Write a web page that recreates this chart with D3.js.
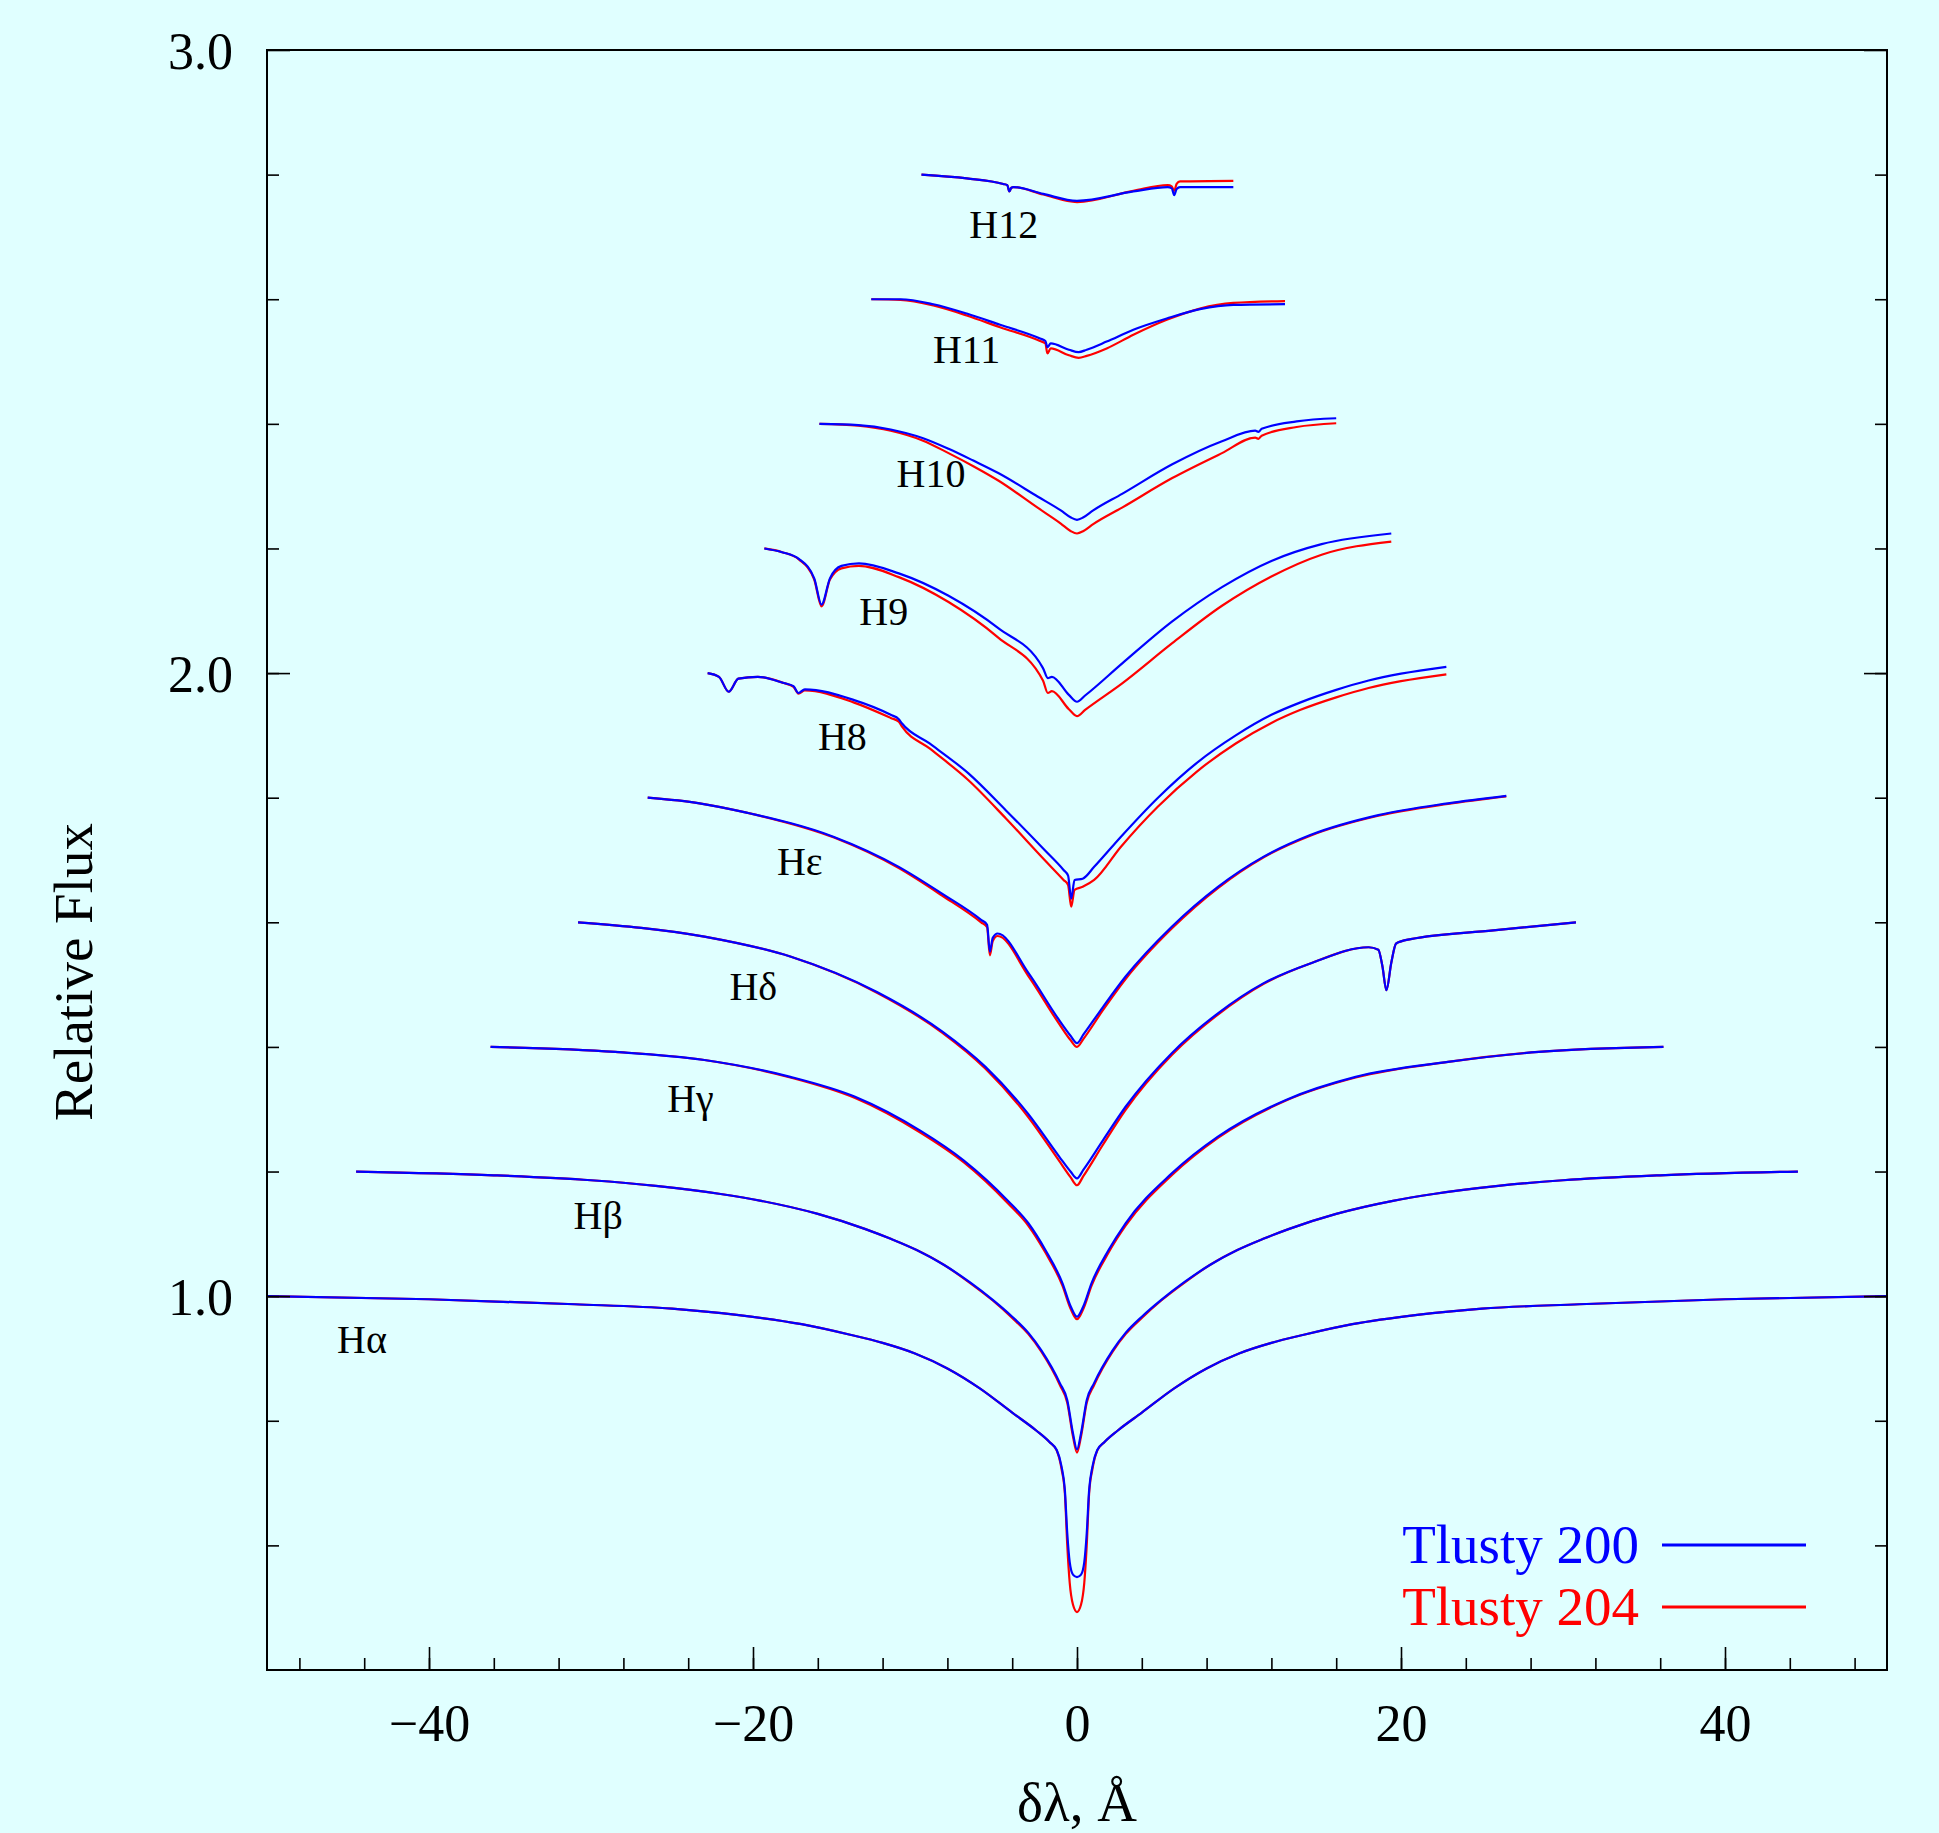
<!DOCTYPE html>
<html>
<head>
<meta charset="utf-8">
<script src="https://cdn.jsdelivr.net/npm/d3@7"></script>
<style>
body { margin: 0; background: #e0ffff; }
text { font-family: "Liberation Serif", "Times New Roman", serif; }
</style>
</head>
<body>
<svg id="chart" width="1939" height="1833"></svg>
<script>
// line profiles: offset (Å) and relative flux, Tlusty 200 (blue) / 204 (red)
var haX = [-50, -40, -31, -25, -21, -17, -14, -12, -10, -8, -6, -4, -2.5, -1.7, -1.25, -0.95, -0.75, -0.6, -0.45, -0.25, 0, 0.25, 0.45, 0.6, 0.75, 0.95, 1.25, 1.7, 2.5, 4, 6, 8, 10, 12, 14, 17, 21, 25, 31, 40, 50];
var haBlue = [1.000, 0.995, 0.987, 0.980, 0.970, 0.955, 0.938, 0.925, 0.908, 0.884, 0.852, 0.813, 0.784, 0.766, 0.753, 0.726, 0.689, 0.619, 0.573, 0.553, 0.549, 0.553, 0.573, 0.619, 0.689, 0.726, 0.753, 0.766, 0.784, 0.813, 0.852, 0.884, 0.908, 0.925, 0.938, 0.955, 0.970, 0.980, 0.987, 0.995, 1.000];
var haRed = [1.000, 0.995, 0.987, 0.980, 0.970, 0.955, 0.938, 0.925, 0.908, 0.884, 0.852, 0.813, 0.784, 0.766, 0.752, 0.722, 0.684, 0.600, 0.540, 0.505, 0.493, 0.505, 0.540, 0.600, 0.684, 0.722, 0.752, 0.766, 0.784, 0.813, 0.852, 0.884, 0.908, 0.925, 0.938, 0.955, 0.970, 0.980, 0.987, 0.995, 1.000];

var hbX = [-44.5, -36, -30, -26, -22, -19.5, -16, -13.1, -11.5, -9.9, -8.2, -6.6, -5.2, -4, -3, -2.2, -1.05, -0.6, -0.25, 0, 0.25, 0.6, 1.05, 2.2, 3, 4, 5.2, 6.6, 8.2, 9.9, 11.5, 13.1, 16, 19.5, 22, 26, 30, 36, 44.5];
var hbBlue = [1.200, 1.194, 1.186, 1.177, 1.164, 1.153, 1.132, 1.108, 1.092, 1.074, 1.050, 1.022, 0.994, 0.967, 0.941, 0.913, 0.860, 0.833, 0.780, 0.754, 0.780, 0.833, 0.860, 0.913, 0.941, 0.967, 0.994, 1.022, 1.050, 1.074, 1.092, 1.108, 1.132, 1.153, 1.164, 1.177, 1.186, 1.194, 1.200];
var hbRed = [1.200, 1.194, 1.186, 1.177, 1.164, 1.153, 1.132, 1.108, 1.092, 1.074, 1.050, 1.021, 0.993, 0.965, 0.939, 0.911, 0.857, 0.829, 0.775, 0.749, 0.775, 0.829, 0.857, 0.911, 0.939, 0.965, 0.993, 1.021, 1.050, 1.074, 1.092, 1.108, 1.132, 1.153, 1.164, 1.177, 1.186, 1.194, 1.200];

var hgX = [-36.2, -28.5, -23, -17.7, -13.7, -9.7, -7, -4.3, -3.0, -1.95, -0.9, -0.38, 0, 0.38, 0.9, 1.95, 3.0, 5.85, 8.7, 12.9, 17.2, 22.9, 28.5, 36.2];
var hgBlue = [1.400, 1.392, 1.379, 1.352, 1.320, 1.266, 1.218, 1.154, 1.117, 1.074, 1.021, 0.983, 0.967, 0.983, 1.021, 1.074, 1.117, 1.197, 1.256, 1.315, 1.352, 1.376, 1.392, 1.400];
var hgRed = [1.400, 1.392, 1.379, 1.351, 1.318, 1.263, 1.215, 1.150, 1.113, 1.070, 1.017, 0.979, 0.963, 0.979, 1.017, 1.070, 1.113, 1.194, 1.254, 1.314, 1.351, 1.376, 1.392, 1.400];

var hdX = [-30.8, -23, -17.7, -12.35, -8.33, -5.65, -3.0, -1.1, -0.4, 0, 0.4, 1.6, 3.0, 5.85, 8.7, 11.5, 14.4, 18.0, 18.6, 18.85, 19.1, 19.4, 19.7, 20.6, 25.7, 30.8];
var hdBlue = [1.600, 1.577, 1.545, 1.488, 1.425, 1.368, 1.292, 1.224, 1.200, 1.189, 1.203, 1.250, 1.304, 1.390, 1.454, 1.502, 1.534, 1.560, 1.556, 1.530, 1.491, 1.535, 1.566, 1.573, 1.587, 1.600];
var hdRed = [1.600, 1.577, 1.545, 1.487, 1.423, 1.365, 1.287, 1.217, 1.191, 1.178, 1.193, 1.243, 1.299, 1.387, 1.452, 1.501, 1.534, 1.560, 1.556, 1.530, 1.491, 1.535, 1.566, 1.573, 1.587, 1.600];

var heX = [-26.5, -23.3, -20.4, -15.0, -11.0, -8.33, -5.92, -5.55, -5.38, -5.2, -4.9, -2.98, -1.1, -0.4, 0, 0.4, 1.6, 3.0, 5.85, 8.7, 11.5, 14.4, 18.6, 22.9, 26.5];
var heBlue = [1.800, 1.791, 1.776, 1.737, 1.689, 1.646, 1.604, 1.596, 1.553, 1.575, 1.582, 1.518, 1.443, 1.418, 1.406, 1.420, 1.464, 1.513, 1.593, 1.657, 1.705, 1.740, 1.772, 1.791, 1.803];
var heRed = [1.800, 1.791, 1.776, 1.736, 1.687, 1.643, 1.600, 1.592, 1.547, 1.570, 1.578, 1.513, 1.437, 1.411, 1.400, 1.413, 1.459, 1.509, 1.590, 1.655, 1.704, 1.739, 1.771, 1.790, 1.802];

var h8X = [-22.8, -22.1, -21.5, -20.9, -19.7, -18.1, -17.5, -17.2, -16.8, -13.8, -11.5, -11.0, -10.8, -9.1, -6.7, -4.4, -2.0, -0.83, -0.55, -0.36, -0.15, 0.35, 1.06, 2.7, 5.0, 7.4, 9.8, 12.0, 13.8, 16, 18, 20, 22.8];
var h8Blue = [2.000, 1.994, 1.970, 1.991, 1.994, 1.984, 1.979, 1.968, 1.974, 1.957, 1.933, 1.926, 1.919, 1.887, 1.839, 1.780, 1.716, 1.684, 1.675, 1.638, 1.668, 1.670, 1.689, 1.737, 1.800, 1.856, 1.900, 1.933, 1.953, 1.973, 1.988, 1.999, 2.010];
var h8Red = [2.000, 1.994, 1.970, 1.991, 1.994, 1.984, 1.978, 1.967, 1.972, 1.953, 1.928, 1.922, 1.914, 1.879, 1.828, 1.767, 1.700, 1.668, 1.660, 1.625, 1.652, 1.657, 1.668, 1.721, 1.786, 1.842, 1.887, 1.920, 1.941, 1.961, 1.976, 1.987, 1.998];

var h9X = [-19.3, -18.2, -17.15, -16.22, -15.77, -15.25, -14.54, -13.46, -11.0, -7.93, -4.86, -2.1, -1.8, -1.55, -0.5, 0, 0.5, 2.81, 5.88, 8.95, 12.0, 15.1, 19.4];
var h9Blue = [2.200, 2.194, 2.183, 2.152, 2.110, 2.152, 2.172, 2.176, 2.160, 2.124, 2.072, 2.008, 1.992, 1.994, 1.965, 1.954, 1.964, 2.016, 2.083, 2.138, 2.180, 2.207, 2.224];
var h9Red = [2.200, 2.194, 2.182, 2.150, 2.107, 2.150, 2.168, 2.172, 2.154, 2.114, 2.057, 1.988, 1.968, 1.971, 1.942, 1.931, 1.941, 1.984, 2.048, 2.108, 2.155, 2.190, 2.211];

var h10X = [-15.9, -13.5, -11.5, -9.5, -7.93, -6.4, -4.86, -2.41, -1.0, -0.4, 0, 0.4, 1.0, 2.81, 5.88, 8.95, 11.0, 11.2, 11.4, 13.56, 16.0];
var h10Blue = [2.400, 2.398, 2.391, 2.377, 2.360, 2.341, 2.321, 2.283, 2.261, 2.250, 2.246, 2.250, 2.261, 2.288, 2.335, 2.372, 2.389, 2.387, 2.392, 2.404, 2.409];
var h10Red = [2.400, 2.397, 2.389, 2.373, 2.353, 2.332, 2.309, 2.265, 2.240, 2.228, 2.224, 2.228, 2.239, 2.266, 2.313, 2.353, 2.378, 2.376, 2.381, 2.395, 2.401];

var h11X = [-12.7, -10.9, -8.87, -6.81, -4.75, -2.28, -1.95, -1.83, -1.62, -0.5, 0.1, 0.6, 1.83, 3.48, 5.54, 7.59, 9.65, 12.84];
var h11Blue = [2.600, 2.600, 2.592, 2.577, 2.559, 2.537, 2.533, 2.523, 2.529, 2.519, 2.515, 2.519, 2.532, 2.551, 2.569, 2.584, 2.591, 2.592];
var h11Red = [2.600, 2.599, 2.590, 2.574, 2.555, 2.533, 2.529, 2.513, 2.521, 2.510, 2.506, 2.509, 2.521, 2.543, 2.567, 2.585, 2.594, 2.597];

var h12X = [-9.6, -6.8, -4.55, -4.3, -4.18, -4.05, -3.93, -2.08, 0, 3.48, 5.6, 5.85, 6.0, 6.15, 6.36, 9.65];
var h12Blue = [2.800, 2.794, 2.785, 2.783, 2.773, 2.779, 2.780, 2.769, 2.758, 2.773, 2.780, 2.778, 2.767, 2.777, 2.780, 2.780];
var h12Red = [2.800, 2.794, 2.785, 2.783, 2.773, 2.779, 2.780, 2.768, 2.756, 2.774, 2.783, 2.781, 2.774, 2.785, 2.789, 2.790];

// labels next to each line
var labelNames = ["Hα", "Hβ", "Hγ", "Hδ", "Hε", "H8", "H9", "H10", "H11", "H12"];
var labelX = [-44.14, -29.56, -23.86, -19.98, -17.11, -14.48, -11.93, -9.01, -6.81, -4.52];
var labelY = [0.931, 1.130, 1.318, 1.498, 1.699, 1.899, 2.100, 2.321, 2.520, 2.721];

var seriesNames = ["Tlusty 200", "Tlusty 204"];
var seriesColors = ["#0000ff", "#ff0000"];

var xMajor = [-40, -20, 0, 20, 40];
var xMinor = d3.range(-48, 49, 4);
var yMajor = [1.0, 2.0, 3.0];
var yMinor = d3.range(3, 15).map(i => i * 0.2);

var profiles = [
  [haX, haBlue, haRed], [hbX, hbBlue, hbRed], [hgX, hgBlue, hgRed],
  [hdX, hdBlue, hdRed], [heX, heBlue, heRed], [h8X, h8Blue, h8Red],
  [h9X, h9Blue, h9Red], [h10X, h10Blue, h10Red], [h11X, h11Blue, h11Red],
  [h12X, h12Blue, h12Red]
];

var svg = d3.select("#chart");
var W = 1939, H = 1833;
var plotLeft = 267, plotTop = 50, plotW = 1620, plotH = 1620;

svg.append("rect").attr("width", W).attr("height", H).attr("fill", "#e0ffff");

var x = d3.scaleLinear().domain([-50, 50]).range([plotLeft, plotLeft + plotW]);
var y = d3.scaleLinear().domain([0.4, 3.0]).range([plotTop + plotH, plotTop]);

svg.append("clipPath").attr("id", "plotclip")
  .append("rect").attr("x", plotLeft).attr("y", plotTop).attr("width", plotW).attr("height", plotH);

var line = d3.line()
  .x(d => x(d[0]))
  .y(d => y(d[1]))
  .curve(d3.curveMonotoneX);

var lines = svg.append("g").attr("clip-path", "url(#plotclip)")
  .attr("fill", "none").attr("stroke-width", 2.2).attr("stroke-linejoin", "round");

profiles.forEach(p => {
  lines.append("path").attr("stroke", seriesColors[1]).attr("d", line(d3.zip(p[0], p[2])));
  lines.append("path").attr("stroke", seriesColors[0]).attr("d", line(d3.zip(p[0], p[1])));
});

// axes, ticks pointing inward
function styleAxis(g) {
  g.select(".domain").remove();
  g.selectAll(".tick line").attr("stroke", "#000").attr("stroke-width", 1.6);
  g.selectAll("text").attr("font-family", "Liberation Serif, serif").attr("font-size", 52).attr("fill", "#000");
}

svg.append("g").attr("transform", `translate(0,${plotTop + plotH})`)
  .call(d3.axisBottom(x).tickValues(xMinor).tickSize(-12).tickFormat(""))
  .call(styleAxis);
svg.append("g").attr("transform", `translate(0,${plotTop + plotH})`)
  .call(d3.axisBottom(x).tickValues(xMajor).tickSize(-23).tickPadding(34))
  .call(styleAxis);

svg.append("g").attr("transform", `translate(${plotLeft},0)`)
  .call(d3.axisLeft(y).tickValues(yMinor).tickSize(-12).tickFormat(""))
  .call(styleAxis);
svg.append("g").attr("transform", `translate(${plotLeft},0)`)
  .call(d3.axisLeft(y).tickValues(yMajor).tickSize(-23).tickPadding(34).tickFormat(d3.format(".1f")))
  .call(styleAxis)
  .selectAll("text").attr("dy", "0.36em");

svg.append("g").attr("transform", `translate(${plotLeft + plotW},0)`)
  .call(d3.axisRight(y).tickValues(yMinor).tickSize(-12).tickFormat(""))
  .call(styleAxis);
svg.append("g").attr("transform", `translate(${plotLeft + plotW},0)`)
  .call(d3.axisRight(y).tickValues(yMajor).tickSize(-23).tickFormat(""))
  .call(styleAxis);

svg.append("rect")
  .attr("x", plotLeft).attr("y", plotTop).attr("width", plotW).attr("height", plotH)
  .attr("fill", "none").attr("stroke", "#000").attr("stroke-width", 2);

// line labels
svg.append("g").selectAll("text")
  .data(labelNames)
  .join("text")
  .attr("x", (d, i) => x(labelX[i]))
  .attr("y", (d, i) => y(labelY[i]))
  .attr("dy", "0.35em")
  .attr("text-anchor", "middle")
  .attr("font-size", 40)
  .attr("fill", "#000")
  .text(d => d);

// axis titles
svg.append("text")
  .attr("x", x(0)).attr("y", 1821)
  .attr("text-anchor", "middle").attr("font-size", 55)
  .text("δλ, Å");

svg.append("text")
  .attr("transform", "translate(92,972) rotate(-90)")
  .attr("text-anchor", "middle").attr("font-size", 55)
  .text("Relative Flux");

// legend
var legend = svg.append("g");
seriesNames.forEach((name, i) => {
  var ly = 1545 + i * 62;
  legend.append("text")
    .attr("x", 1639).attr("y", ly + 18)
    .attr("text-anchor", "end").attr("font-size", 55)
    .attr("fill", seriesColors[i])
    .text(name);
  legend.append("line")
    .attr("x1", 1662).attr("x2", 1806)
    .attr("y1", ly).attr("y2", ly)
    .attr("stroke", seriesColors[i]).attr("stroke-width", 3);
});
</script>
</body>
</html>
